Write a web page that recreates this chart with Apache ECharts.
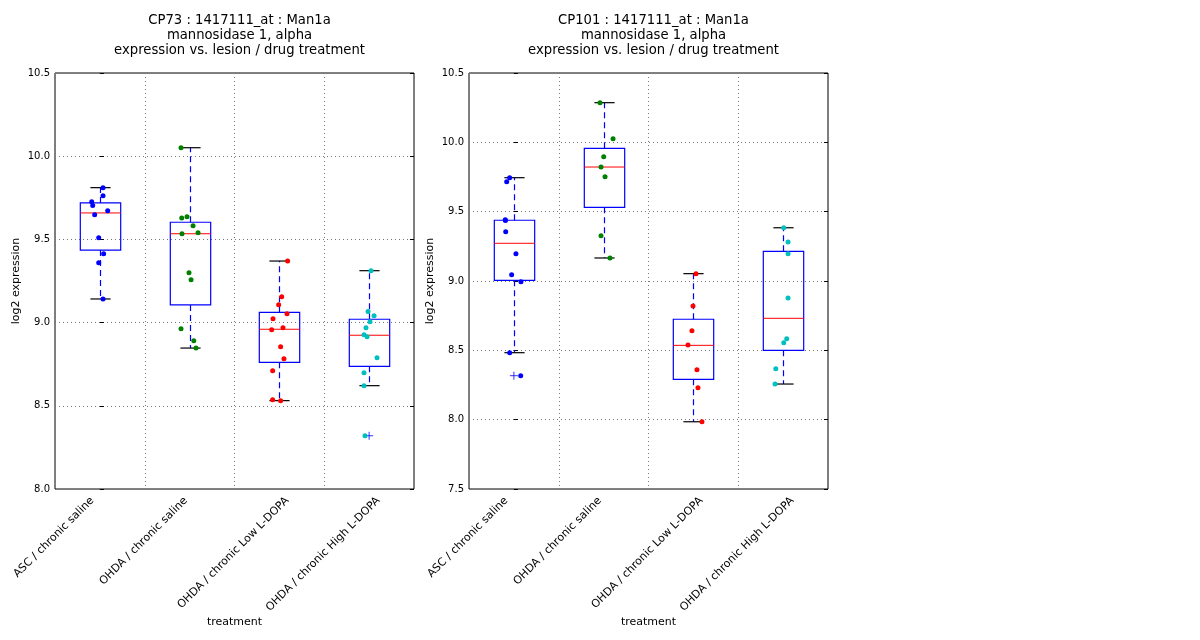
<!DOCTYPE html>
<html>
<head>
<meta charset="utf-8">
<script src="https://cdn.jsdelivr.net/npm/echarts@6/dist/echarts.min.js"></script>
<style>
	html, body { margin: 0; padding: 0; background: #fff; }
	#main { width: 1200px; height: 640px; }
</style>
</head>
<body>
<div id="main"></div>
<script>
var categories = ['ASC / chronic saline', 'OHDA / chronic saline', 'OHDA / chronic Low L-DOPA', 'OHDA / chronic High L-DOPA']
var groupColors = ['#0000ff', '#008000', '#ff0000', '#00bfbf']

// CP73 panel: points per group, jitter (category units), box stats [low, q1, median, q3, high]
var cp73Values = [
	[9.811, 9.763, 9.727, 9.703, 9.672, 9.648, 9.510, 9.414, 9.360, 9.142],
	[10.051, 9.629, 9.636, 9.582, 9.534, 9.540, 9.300, 9.258, 8.963, 8.891, 8.847],
	[9.370, 9.156, 9.108, 9.053, 9.023, 8.969, 8.957, 8.855, 8.783, 8.711, 8.537, 8.531],
	[9.312, 9.066, 9.041, 9.005, 8.969, 8.927, 8.915, 8.789, 8.699, 8.621, 8.320]
]
var cp73Jitter = [
	[0.035, 0.035, -0.091, -0.080, 0.087, -0.058, -0.013, 0.042, -0.013, 0.035],
	[-0.096, -0.088, -0.029, 0.038, -0.085, 0.094, -0.007, 0.016, -0.096, 0.046, 0.071],
	[0.092, 0.026, -0.008, 0.085, -0.071, 0.040, -0.086, 0.014, 0.051, -0.075, -0.075, 0.014],
	[0.021, -0.012, 0.055, 0.010, -0.035, -0.057, -0.023, 0.088, -0.057, -0.057, -0.046]
]
var cp73Boxes = [
	[9.142, 9.436, 9.659, 9.719, 9.811],
	[8.847, 9.106, 9.534, 9.603, 10.051],
	[8.531, 8.761, 8.960, 9.062, 9.370],
	[8.621, 8.737, 8.924, 9.020, 9.312]
]
var cp73Outliers = [[3, 8.320]]

// CP101 panel
var cp101Values = [
	[9.745, 9.716, 9.442, 9.436, 9.355, 9.197, 9.045, 8.995, 8.483, 8.317],
	[10.286, 10.026, 9.896, 9.822, 9.752, 9.327, 9.166],
	[9.053, 8.820, 8.642, 8.538, 8.360, 8.231, 7.985],
	[9.384, 9.281, 9.197, 8.877, 8.584, 8.555, 8.368, 8.257]
]
var cp101Jitter = [
	[-0.047, -0.080, -0.096, -0.094, -0.091, 0.023, -0.025, 0.079, -0.047, 0.076],
	[-0.040, 0.105, 0.001, -0.029, 0.016, -0.029, 0.071],
	[0.029, -0.004, -0.016, -0.060, 0.040, 0.051, 0.096],
	[0.007, 0.055, 0.055, 0.055, 0.040, 0.007, -0.082, -0.090]
]
var cp101Boxes = [
	[8.483, 9.005, 9.272, 9.438, 9.745],
	[9.166, 9.531, 9.822, 9.957, 10.286],
	[7.985, 8.291, 8.536, 8.724, 9.053],
	[8.257, 8.500, 8.731, 9.214, 9.384]
]
var cp101Outliers = [[0, 8.317]]

var panels = [
	{ title: 'CP73 : 1417111_at : Man1a\nmannosidase 1, alpha\nexpression vs. lesion / drug treatment',
		left: 55, yMin: 8.0, yMax: 10.5, values: cp73Values, jitter: cp73Jitter, boxes: cp73Boxes, outliers: cp73Outliers },
	{ title: 'CP101 : 1417111_at : Man1a\nmannosidase 1, alpha\nexpression vs. lesion / drug treatment',
		left: 469, yMin: 7.5, yMax: 10.5, values: cp101Values, jitter: cp101Jitter, boxes: cp101Boxes, outliers: cp101Outliers }
]

var font = 'DejaVu Sans'
var gridW = 359, gridTop = 73, gridH = 416
var labelSize = 11

// box + whiskers drawn through the axes' own coord()
function renderBox(params, api) {
	var x = api.value(0)
	var low = api.coord([x, api.value(1)])
	var q1 = api.coord([x, api.value(2)])
	var med = api.coord([x, api.value(3)])
	var q3 = api.coord([x, api.value(4)])
	var high = api.coord([x, api.value(5)])
	var w = api.size([0.45, 0])[0]
	var cx = Math.round(low[0]) + 0.5
	var blue = '#0000ff'
	var dash = { stroke: blue, lineWidth: 1.2, lineDash: [6, 4] }
	return {
		type: 'group',
		children: [
			{ type: 'line', shape: { x1: cx, y1: q3[1], x2: cx, y2: high[1] }, style: dash },
			{ type: 'line', shape: { x1: cx, y1: q1[1], x2: cx, y2: low[1] }, style: dash },
			{ type: 'line', shape: { x1: cx - w / 4, y1: high[1], x2: cx + w / 4, y2: high[1] }, style: { stroke: '#000', lineWidth: 1.2 } },
			{ type: 'line', shape: { x1: cx - w / 4, y1: low[1], x2: cx + w / 4, y2: low[1] }, style: { stroke: '#000', lineWidth: 1.2 } },
			{ type: 'rect', shape: { x: cx - w / 2, y: q3[1], width: w, height: q1[1] - q3[1] }, style: { fill: 'none', stroke: blue, lineWidth: 1.2 } },
			{ type: 'line', shape: { x1: cx - w / 2, y1: med[1], x2: cx + w / 2, y2: med[1] }, style: { stroke: '#ff0000', lineWidth: 1 } }
		]
	}
}

var option = {
	backgroundColor: '#fff',
	animation: false,
	title: [],
	grid: [],
	xAxis: [],
	yAxis: [],
	series: []
}

panels.forEach(function (p, i) {
	option.title.push({
		text: p.title,
		left: p.left + gridW / 2,
		textAlign: 'center',
		top: 8,
		textStyle: { fontFamily: font, fontSize: 13.2, fontWeight: 'normal', color: '#000', lineHeight: 15 }
	})
	option.grid.push({
		left: p.left, top: gridTop, width: gridW, height: gridH,
		show: true, borderColor: '#000', borderWidth: 1, backgroundColor: 'transparent'
	})
	// category axis: split lines + axis name (labels are placed below, matplotlib style)
	option.xAxis.push({
		type: 'category', gridIndex: i, data: categories,
		name: 'treatment', nameLocation: 'middle', nameGap: 128,
		nameTextStyle: { fontFamily: font, fontSize: 11, color: '#000' },
		axisLine: { show: false },
		axisTick: { show: false, interval: 0 },
		axisLabel: { show: false, interval: 0 },
		splitLine: { show: true, interval: 0, lineStyle: { color: '#777', type: [1, 3], width: 1 } }
	})
	// hidden value axis for placing the marks
	option.xAxis.push({
		type: 'value', gridIndex: i, min: -0.5, max: 3.5, show: false
	})
	option.yAxis.push({
		type: 'value', gridIndex: i, min: p.yMin, max: p.yMax, interval: 0.5,
		name: 'log2 expression', nameLocation: 'middle', nameGap: 33,
		nameTextStyle: { fontFamily: font, fontSize: 11, color: '#000' },
		axisLine: { show: false },
		axisTick: { show: true, inside: true, length: 4, lineStyle: { color: '#000' } },
		axisLabel: { fontFamily: font, fontSize: 10, color: '#000', margin: 5, formatter: function (v) { return v.toFixed(1) } },
		splitLine: { show: true, lineStyle: { color: '#777', type: [1, 3], width: 1 } }
	})
	option.yAxis.push({
		type: 'value', gridIndex: i, min: p.yMin, max: p.yMax, interval: 0.5, position: 'right',
		axisLine: { show: false },
		axisTick: { show: true, inside: true, length: 4, lineStyle: { color: '#000' } },
		axisLabel: { show: false },
		splitLine: { show: false }
	})

	var xVal = i * 2 + 1
	var yLeft = i * 2

	option.series.push({
		type: 'custom',
		xAxisIndex: xVal, yAxisIndex: yLeft,
		renderItem: renderBox,
		encode: { x: 0, y: [1, 2, 3, 4, 5] },
		data: p.boxes.map(function (b, k) { return [k].concat(b) }),
		z: 2
	})

	p.values.forEach(function (vals, k) {
		option.series.push({
			type: 'scatter',
			xAxisIndex: xVal, yAxisIndex: yLeft,
			symbol: 'circle', symbolSize: 5,
			itemStyle: { color: groupColors[k], opacity: 1 },
			data: vals.map(function (v, j) { return [k + p.jitter[k][j], v] }),
			z: 4
		})
	})

	option.series.push({
		type: 'scatter',
		xAxisIndex: xVal, yAxisIndex: yLeft,
		symbol: 'path://M0,5L10,5M5,0L5,10', symbolSize: 8,
		itemStyle: { color: 'transparent', borderColor: '#0000ff', borderWidth: 1 },
		data: p.outliers,
		z: 3
	})
})

var myChart = echarts.init(document.getElementById('main'))
myChart.setOption(option)

// rotated tick labels: bounding box centred left of the tick, top just under the axis
var ctx = document.createElement('canvas').getContext('2d')
ctx.font = labelSize + 'px "' + font + '"'
var labels = []
panels.forEach(function (p, i) {
	categories.forEach(function (c, k) {
		var px = myChart.convertToPixel({ xAxisIndex: i * 2 + 1 }, k)
		var half = (ctx.measureText(c).width + labelSize) * Math.SQRT1_2 / 2
		labels.push({
			type: 'text',
			x: px - 46,
			y: gridTop + gridH + 6 + half,
			rotation: Math.PI / 4,
			style: { text: c, fill: '#000', font: labelSize + 'px "' + font + '"', align: 'center', verticalAlign: 'middle', textAlign: 'center', textVerticalAlign: 'middle' }
		})
	})
})
myChart.setOption({ graphic: labels })
</script>
</body>
</html>
